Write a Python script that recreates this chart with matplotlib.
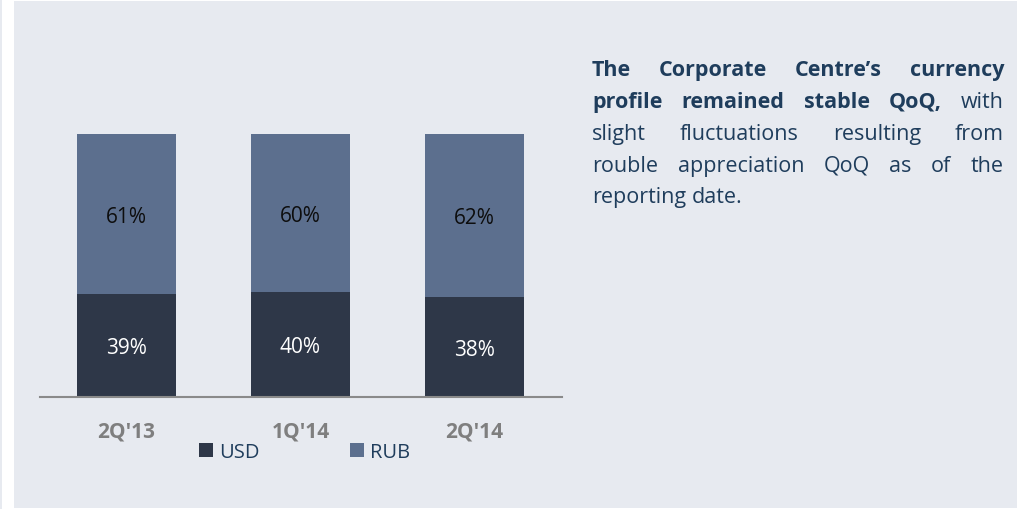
import matplotlib.pyplot as plt
from matplotlib.patches import Rectangle
from matplotlib.transforms import IdentityTransform

# data
categories = ["2Q'13", "1Q'14", "2Q'14"]
usd = [39, 40, 38]
rub = [61, 60, 62]
series_names = ["USD", "RUB"]

para_lines = [
    "The Corporate Centre\u2019s currency",
    "profile remained stable QoQ, with",
    "slight fluctuations resulting from",
    "rouble appreciation QoQ as of the",
    "reporting date.",
]
n_bold_words = 8

# colours
panel_col = "#E7EAF0"
usd_col = "#2E3748"
rub_col = "#5C6F8E"
text_blue = "#1F3D5C"
cat_gray = "#7F7F7F"

plt.rcParams['font.family'] = ['Open Sans', 'DejaVu Sans']

W, H = 1017, 510
fig = plt.figure(figsize=(W / 100, H / 100), dpi=100)
fig.patch.set_facecolor("white")

# background panel
fig.patches.append(Rectangle((14 / W, 1 / H), 1 - 14 / W, 507 / H, transform=fig.transFigure,
                             facecolor=panel_col, edgecolor="none", zorder=-10))
fig.patches.append(Rectangle((0, 0), 2 / W, 1, transform=fig.transFigure,
                             facecolor=panel_col, edgecolor="none", zorder=-10))

# chart axes: x from 39.5 to 561.5 px, baseline at 397.5 px from top, 100% at 135 px
ax = fig.add_axes([39.5 / W, (H - 397.5) / H, 522 / W, 262.5 / H])
ax.set_facecolor("none")
x = range(len(categories))
bw = 99 / 174
b1 = ax.bar(x, usd, bw, color=usd_col, label=series_names[0])
b2 = ax.bar(x, rub, bw, bottom=usd, color=rub_col, label=series_names[1])
ax.set_xlim(-0.5, 2.5)
ax.set_ylim(0, 100)

for i in x:
    ax.text(i, usd[i] / 2, f"{usd[i]}%", ha="center", va="center_baseline",
            color="white", fontsize=15)
    ax.text(i, usd[i] + rub[i] / 2, f"{rub[i]}%", ha="center", va="center_baseline",
            color="#0D0D0D", fontsize=15)

for s in ["left", "right", "top"]:
    ax.spines[s].set_visible(False)
ax.spines["bottom"].set_color("#8A8A8A")
ax.spines["bottom"].set_linewidth(1.5)
ax.set_yticks([])
ax.set_xticks(list(x), categories)
ax.tick_params(axis="x", length=0, pad=17, labelsize=15, labelcolor=cat_gray)
for t in ax.get_xticklabels():
    t.set_fontweight("bold")

fig.legend(handles=[b1, b2], labels=series_names, loc="center left",
           bbox_to_anchor=(199 / W, (H - 453) / H), ncol=2, frameon=False,
           fontsize=14.5, labelcolor=text_blue, handlelength=0.7, handleheight=0.7,
           handletextpad=0.3, columnspacing=4.5, borderpad=0, borderaxespad=0)

# justified paragraph on the right
renderer = fig.canvas.get_renderer()
left, right = 592, 1004
baselines = [76, 108, 140, 172, 203.5]
word_idx = 0
for li, line in enumerate(para_lines):
    words = line.split(" ")
    texts = []
    for w in words:
        t = fig.text(0, 0, w, transform=IdentityTransform(), fontsize=15.5, color=text_blue,
                     fontweight="bold" if word_idx < n_bold_words else "normal", va="baseline")
        texts.append(t)
        word_idx += 1
    widths = [t.get_window_extent(renderer).width for t in texts]
    if li < len(para_lines) - 1 and len(words) > 1:
        gap = (right - left - sum(widths)) / (len(words) - 1)
    else:
        gap = 5.5
    xpos = left
    for t, wd in zip(texts, widths):
        t.set_position((xpos, H - baselines[li]))
        xpos += wd + gap

fig.savefig("out.png", dpi=100, facecolor=fig.get_facecolor())
